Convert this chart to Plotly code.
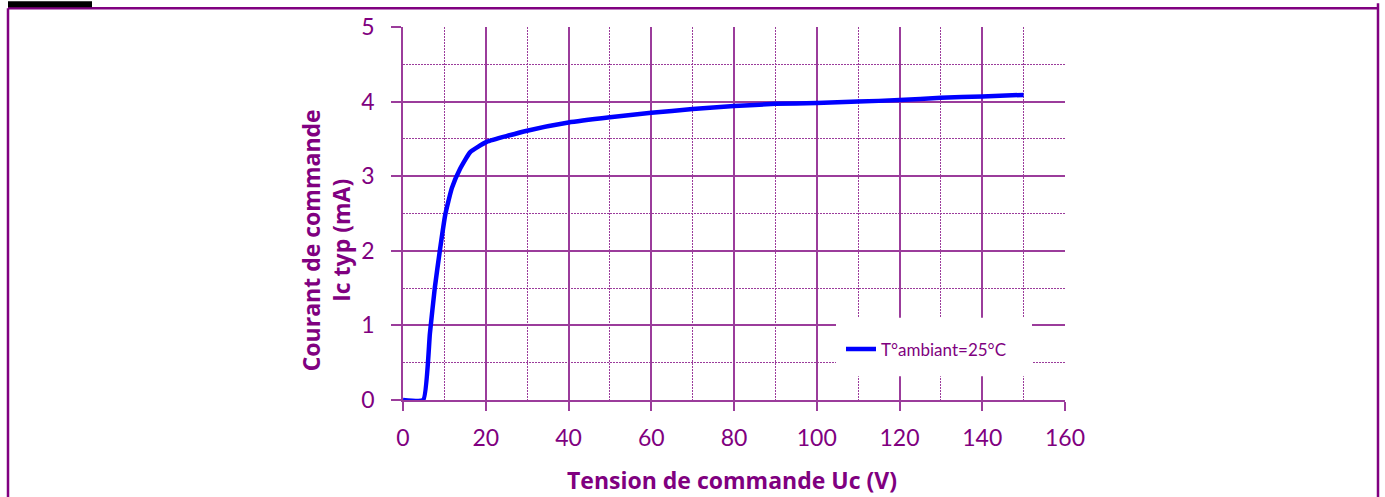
import plotly.graph_objects as go

# Courbe Ic = f(Uc)
uc_volts = [0, 4.9, 6.5, 7.7, 8.9, 10.2, 11.8, 13.8, 16.2, 20.2, 30, 40,
            50, 60, 70, 80, 90, 100, 110, 120, 130, 140, 150]
ic_ma = [0, 0, 0.89, 1.51, 2.0, 2.48, 2.84, 3.10, 3.32, 3.46, 3.61, 3.72,
         3.79, 3.85, 3.90, 3.94, 3.97, 3.98, 4.00, 4.02, 4.05, 4.07, 4.09]
serie_nom = 'T°ambiant=25°C'

x_ticks = [0, 20, 40, 60, 80, 100, 120, 140, 160]
y_ticks = [0, 1, 2, 3, 4, 5]

PURPLE = '#800080'
GRID = '#9B3C9B'
FONT = 'Lato, Open Sans, sans-serif'
TITLE_FONT = 'Open Sans, Lato, sans-serif'

W, H = 1385, 497
L, R, T, B = 403, 320, 24, 97
pw, ph = W - L - R, H - T - B


def px_x(p):
    return (p - L) / pw


def px_y(p):
    return (H - B - p) / ph


fig = go.Figure()

fig.add_trace(go.Scatter(
    x=uc_volts,
    y=ic_ma,
    mode='lines',
    name=serie_nom,
    line=dict(color='#0000FF', width=4.5, shape='spline', smoothing=0.4),
))

fig.update_layout(
    width=W,
    height=H,
    margin=dict(l=L, r=R, t=T, b=B),
    paper_bgcolor='white',
    plot_bgcolor='white',
    font=dict(family=FONT, color=PURPLE),
    showlegend=True,
    legend=dict(
        x=px_x(841), y=px_y(331), xanchor='left', yanchor='top',
        bgcolor='rgba(0,0,0,0)',
        font=dict(size=17, color=PURPLE, family=FONT),
    ),
    shapes=[
        # fond blanc de la légende
        dict(type='rect', xref='paper', yref='paper',
             x0=px_x(836), x1=px_x(1032), y0=px_y(376), y1=px_y(317),
             fillcolor='white', line=dict(width=0), layer='above'),
        # cadre violet de la page
        dict(type='line', xref='paper', yref='paper',
             x0=px_x(8), x1=px_x(1378), y0=px_y(5), y1=px_y(5),
             line=dict(color=PURPLE, width=2.5)),
        dict(type='line', xref='paper', yref='paper',
             x0=px_x(8), x1=px_x(8), y0=px_y(5), y1=px_y(500),
             line=dict(color=PURPLE, width=2.5)),
        dict(type='line', xref='paper', yref='paper',
             x0=px_x(1378), x1=px_x(1378), y0=px_y(0), y1=px_y(500),
             line=dict(color=PURPLE, width=2.5)),
        dict(type='rect', xref='paper', yref='paper',
             x0=px_x(8), x1=px_x(92), y0=px_y(4), y1=px_y(-2),
             fillcolor='black', line=dict(width=0)),
    ],
    annotations=[
        dict(text='<b>Tension de commande Uc (V)</b>', xref='paper', yref='paper',
             x=px_x(732), y=px_y(481), xanchor='center', yanchor='middle',
             showarrow=False,
             font=dict(size=23, color=PURPLE, family=TITLE_FONT)),
        dict(text='<b>Courant de commande<br>Ic typ (mA)</b>', xref='paper', yref='paper',
             x=px_x(326), y=px_y(239), xanchor='center', yanchor='middle',
             showarrow=False, textangle=-90,
             font=dict(size=23, color=PURPLE, family=TITLE_FONT)),
    ],
)

fig.update_xaxes(
    range=[0, 160],
    tickvals=x_ticks,
    ticks='outside', ticklen=9, tickcolor=GRID, tickwidth=1.5,
    tickfont=dict(size=23, color=PURPLE),
    ticklabelstandoff=8,
    showgrid=True, gridcolor=GRID, gridwidth=1.5,
    minor=dict(dtick=10, showgrid=True, gridcolor=GRID, griddash='1.5px,1.5px', gridwidth=1.3),
    showline=True, linecolor=GRID, linewidth=1.5,
    zeroline=False,
)

fig.update_yaxes(
    range=[0, 5],
    tickvals=y_ticks,
    ticks='outside', ticklen=10, tickcolor=GRID, tickwidth=1.5,
    tickfont=dict(size=23, color=PURPLE),
    ticklabelstandoff=12,
    showgrid=True, gridcolor=GRID, gridwidth=1.5,
    minor=dict(dtick=0.5, showgrid=True, gridcolor=GRID, griddash='1.5px,1.5px', gridwidth=1.3),
    showline=True, linecolor=GRID, linewidth=1.5,
    zeroline=False,
)

fig.write_html('out.html', config={'displayModeBar': False},
               post_script="document.body.style.margin='0';")
